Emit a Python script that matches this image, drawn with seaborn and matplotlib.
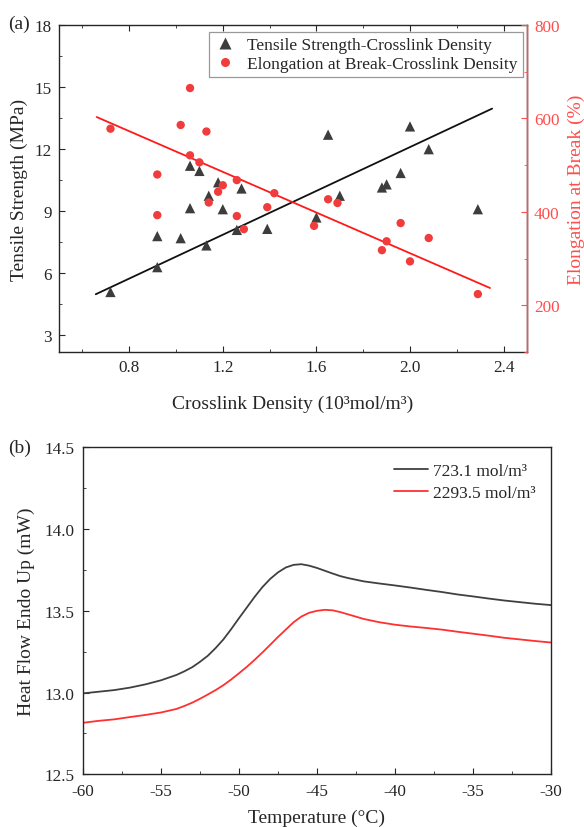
import numpy as np
import pandas as pd
import matplotlib
matplotlib.use("Agg")
import matplotlib.pyplot as plt
import seaborn as sns
from matplotlib.ticker import MultipleLocator, FormatStrFormatter
from matplotlib.lines import Line2D

# (a) crosslink density vs tensile strength / elongation at break
ts_density = [0.72, 0.92, 0.92, 1.02, 1.06, 1.10, 1.06, 1.13, 1.14, 1.18, 1.20, 1.26,
              1.28, 1.39, 1.60, 1.65, 1.70, 1.88, 1.90, 1.96, 2.00, 2.08, 2.29]
tensile = [5.1, 6.3, 7.8, 7.7, 11.2, 10.95, 9.15, 7.35, 9.75, 10.4, 9.1, 8.1,
           10.1, 8.15, 8.7, 12.7, 9.75, 10.15, 10.3, 10.85, 13.1, 12.0, 9.1]

eb_density = [0.72, 0.92, 0.92, 1.02, 1.06, 1.06, 1.10, 1.13, 1.14, 1.18, 1.20, 1.26,
              1.26, 1.29, 1.39, 1.42, 1.59, 1.65, 1.69, 1.88, 1.90, 1.96, 2.00, 2.08, 2.29]
elongation = [578, 480, 393, 586, 665, 521, 506, 572, 420, 443, 457, 391,
              468, 363, 410, 440, 370, 427, 419, 318, 337, 376, 294, 344, 224]

ts_fit_x = [0.657, 2.351]
ts_fit_y = [4.99, 13.96]
eb_fit_x = [0.661, 2.342]
eb_fit_y = [603, 237]

# (b) DSC curves
temperature = [-60, -59, -58, -57, -56, -55, -54, -53.5, -53, -52.5, -52, -51.5, -51,
               -50.5, -50, -49.5, -49, -48.5, -48, -47.5, -47, -46.5, -46, -45.5, -45,
               -44.5, -44, -43.5, -43, -42, -41, -40, -39, -38, -37, -36, -35, -34, -33,
               -32, -31, -30]
heat_723 = [12.995, 13.005, 13.015, 13.03, 13.05, 13.075, 13.108, 13.13, 13.155, 13.188,
            13.225, 13.272, 13.325, 13.388, 13.455, 13.52, 13.585, 13.645, 13.695, 13.735,
            13.765, 13.781, 13.785, 13.776, 13.762, 13.745, 13.728, 13.712, 13.7, 13.68,
            13.667, 13.655, 13.642, 13.628, 13.615, 13.6, 13.588, 13.575, 13.563, 13.553,
            13.543, 13.535]
heat_2293 = [12.815, 12.827, 12.836, 12.85, 12.863, 12.878, 12.9, 12.918, 12.938, 12.962,
             12.988, 13.015, 13.045, 13.08, 13.118, 13.157, 13.2, 13.245, 13.292, 13.34,
             13.385, 13.43, 13.465, 13.488, 13.5, 13.506, 13.503, 13.492, 13.478, 13.45,
             13.43, 13.415, 13.404, 13.395, 13.385, 13.372, 13.36, 13.348, 13.335, 13.325,
             13.315, 13.306]

sns.set_style("ticks")
plt.rcParams["font.family"] = ["Liberation Serif", "DejaVu Serif"]
plt.rcParams["axes.unicode_minus"] = False

dark = "#3d3d3d"
red = "#f03c3c"
red_axis = "#ff4d4d"

fig = plt.figure(figsize=(5.84, 8.28), dpi=100)
ax1 = fig.add_axes([59 / 584, 475 / 828, 468 / 584, 327 / 828])
ax2 = ax1.twinx()

sns.scatterplot(x=ts_density, y=tensile, ax=ax1, marker="^", s=55,
                color=dark, edgecolor="none", legend=False, zorder=3)
sns.lineplot(x=ts_fit_x, y=ts_fit_y, ax=ax1, color="#111111", linewidth=1.3, legend=False)
sns.scatterplot(x=eb_density, y=elongation, ax=ax2, marker="o", s=36,
                color=red, edgecolor="none", legend=False, zorder=3)
sns.lineplot(x=eb_fit_x, y=eb_fit_y, ax=ax2, color="#ff1a1a", linewidth=1.3, legend=False)

ax1.set_xlim(0.5, 2.5)
ax1.set_ylim(2.2, 18)
ax2.set_ylim(100, 800)
ax1.xaxis.set_major_locator(MultipleLocator(0.4))
ax1.xaxis.set_minor_locator(MultipleLocator(0.2))
ax1.yaxis.set_major_locator(MultipleLocator(3))
ax1.yaxis.set_minor_locator(MultipleLocator(1.5))
ax2.yaxis.set_major_locator(MultipleLocator(200))
ax2.yaxis.set_minor_locator(MultipleLocator(100))

ax1.tick_params(which="both", direction="in", top=True, right=False, labelsize=12.3, pad=5)
ax1.tick_params(which="major", length=4)
ax1.tick_params(which="minor", length=2.5)
ax2.tick_params(which="both", direction="in", colors=red_axis, labelsize=12.3, pad=5)
ax2.tick_params(which="major", length=4)
ax2.tick_params(which="minor", length=2.5)
for s in ["left", "top", "bottom"]:
    ax2.spines[s].set_visible(False)
ax2.spines["right"].set_color(red_axis)
for s in ax1.spines.values():
    s.set_linewidth(1.0)
ax2.spines["right"].set_linewidth(1.0)

ax1.set_xlabel("Crosslink Density (10³mol/m³)", fontsize=14, labelpad=14)
ax1.set_ylabel("Tensile Strength (MPa)", fontsize=14, labelpad=5)
ax2.set_ylabel("Elongation at Break (%)", fontsize=14, color=red_axis, labelpad=6)

handles = [
    Line2D([], [], linestyle="none", marker="^", markersize=8, color=dark, markeredgecolor="none"),
    Line2D([], [], linestyle="none", marker="o", markersize=6.5, color=red, markeredgecolor="none"),
]
leg = ax2.legend(handles, ["Tensile Strength-Crosslink Density",
                           "Elongation at Break-Crosslink Density"],
                 loc="upper right", bbox_to_anchor=(1 - 4 / 468, 1 - 7 / 327),
                 borderaxespad=0, fontsize=12.5, frameon=True, fancybox=False,
                 edgecolor="#999999", framealpha=1, handlelength=1.2,
                 handletextpad=0.7, labelspacing=0.15, borderpad=0.3)
leg.get_frame().set_linewidth(0.9)

# (b)
ax3 = fig.add_axes([83 / 584, 52.7 / 828, 468 / 584, 327 / 828])
sns.lineplot(x=temperature, y=heat_723, ax=ax3, color="#404040", linewidth=1.3,
             label="723.1 mol/m³")
sns.lineplot(x=temperature, y=heat_2293, ax=ax3, color="#ff3030", linewidth=1.3,
             label="2293.5 mol/m³")
ax3.set_xlim(-60, -30)
ax3.set_ylim(12.5, 14.5)
ax3.xaxis.set_major_locator(MultipleLocator(5))
ax3.xaxis.set_minor_locator(MultipleLocator(2.5))
ax3.yaxis.set_major_locator(MultipleLocator(0.5))
ax3.yaxis.set_minor_locator(MultipleLocator(0.25))
ax3.yaxis.set_major_formatter(FormatStrFormatter("%.1f"))
ax3.tick_params(which="both", direction="in", labelsize=12.3, pad=6)
ax3.tick_params(which="major", length=4)
ax3.tick_params(which="minor", length=2.5)
for s in ax3.spines.values():
    s.set_linewidth(1.0)
ax3.set_xlabel("Temperature (°C)", fontsize=14, labelpad=7.5)
ax3.set_ylabel("Heat Flow Endo Up (mW)", fontsize=14, labelpad=7)
ax3.legend(loc="upper right", bbox_to_anchor=(1, 1), borderaxespad=0.5,
           fontsize=12.5, frameon=False, handlelength=2.0, handletextpad=0.25,
           labelspacing=0.35)

fig.text(8 / 584, 1 - 24 / 828, "(a)", fontsize=14, va="center", ha="left")
fig.text(8 / 584, 1 - 448 / 828, "(b)", fontsize=14, va="center", ha="left")

fig.savefig("out.png", dpi=100)
